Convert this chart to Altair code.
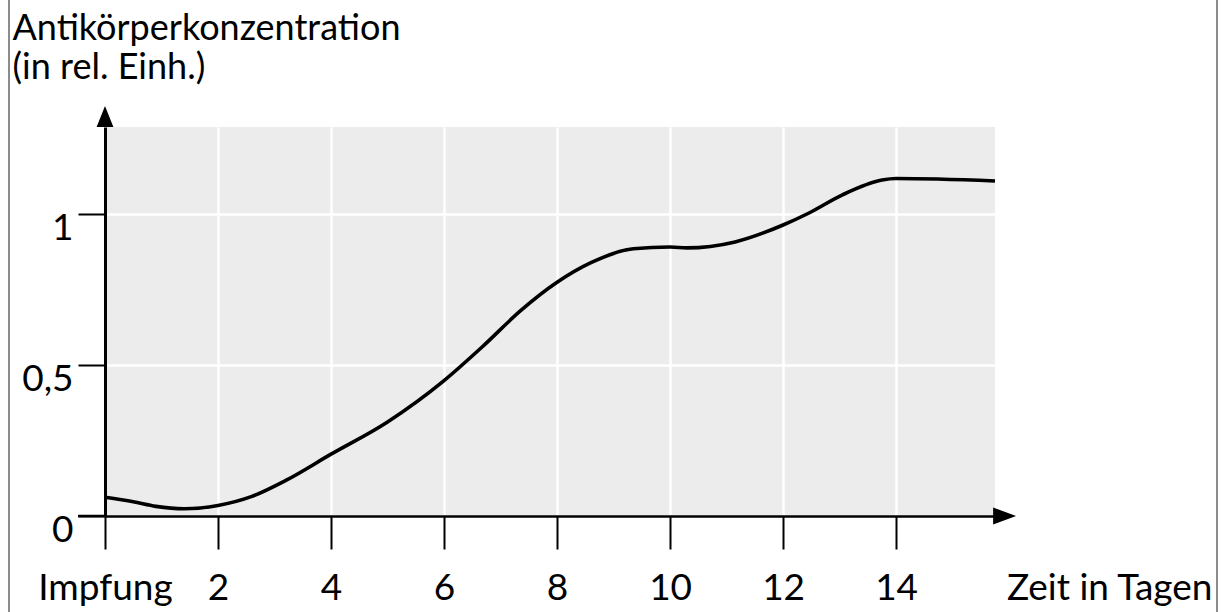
import altair as alt
import pandas as pd

# --- data ---
days = [0, 0.5, 0.9, 1.4, 2, 2.6, 3.2, 4, 5, 6, 6.7, 7.35, 8, 8.6, 9.35, 10, 10.3,
        11.15, 12, 12.45, 13.05, 13.75, 14, 15.75]
conc = [0.062, 0.047, 0.032, 0.024, 0.035, 0.065, 0.118, 0.205, 0.312, 0.449, 0.565,
        0.68, 0.775, 0.84, 0.886, 0.892, 0.889, 0.909, 0.965, 1.004, 1.065, 1.114,
        1.119, 1.111]
x_ticks = [0, 2, 4, 6, 8, 10, 12, 14]
y_ticks = [0, 0.5, 1]
x_title = "Zeit in Tagen"
y_title = ["Antikörperkonzentration", "(in rel. Einh.)"]
zero_label = "Impfung"

FONT = "Lato"
FS = 37

df = pd.DataFrame({"Tag": days, "Konz": conc})

xs = alt.Scale(domain=[0, 15.75], nice=False, zero=False)
ys = alt.Scale(domain=[0, 1.29], nice=False, zero=False)

x_axis = alt.Axis(
    values=x_ticks,
    labelExpr=f"datum.value == 0 ? '{zero_label}' : format(datum.value, 'd')",
    title=x_title,
    titleX=1107, titleY=83, titleAlign="right", titleBaseline="alphabetic",
    titleAngle=0,
    grid=True, gridColor="white", gridWidth=2.5,
    tickSize=33, tickWidth=2, tickColor="black",
    domainColor="black", domainWidth=2.5,
    labelPadding=50, labelBaseline="alphabetic", labelFlush=False, labelOverlap=False,
)
y_axis = alt.Axis(
    values=y_ticks,
    labelExpr="datum.value == 0.5 ? '0,5' : format(datum.value, 'd')",
    title=y_title,
    titleAngle=0, titleAlign="left", titleBaseline="alphabetic",
    titleX=-93, titleY=-88, titleLineHeight=39, titleFontSize=36,
    grid=True, gridColor="white", gridWidth=2.5,
    tickSize=27, tickWidth=2, tickColor="black",
    domainColor="black", domainWidth=3,
    labelPadding=5, labelBaseline="alphabetic", labelOffset=25, labelFlush=False,
)

line = alt.Chart(df).mark_line(
    color="black", strokeWidth=3.6, interpolate="monotone"
).encode(
    x=alt.X("Tag:Q", scale=xs, axis=x_axis),
    y=alt.Y("Konz:Q", scale=ys, axis=y_axis),
)

# extend x-axis line leftwards to the tick start
ext = alt.Chart(pd.DataFrame({"a": [0]})).mark_rule(color="black", strokeWidth=2.5).encode(
    x=alt.value(-27), x2=alt.value(0), y=alt.value(389)
)

arrows_df = pd.DataFrame({
    "Tag": [0, 15.92],
    "Konz": [1.325, 0],
    "shape": ["M0,-1L0.8,1L-0.8,1Z", "M1,0L-1,0.74L-1,-0.74Z"],
    "size": [441, 529],
})
arrows = alt.Chart(arrows_df).mark_point(filled=True, color="black", opacity=1, strokeWidth=0).encode(
    x=alt.X("Tag:Q", scale=xs),
    y=alt.Y("Konz:Q", scale=ys),
    shape=alt.Shape("shape:N", scale=None),
    size=alt.Size("size:Q", scale=None),
)

frame = alt.Chart(pd.DataFrame({"x": [-96, 1112]})).mark_rule(color="#666666", strokeWidth=1.5).encode(
    x=alt.X("x:Q", scale=None),
    y=alt.value(-127), y2=alt.value(485),
)

chart = alt.layer(line, ext, arrows, frame).properties(
    width=890, height=389,
    autosize=alt.AutoSizeParams(type="none"),
    padding={"left": 105, "top": 127, "right": 227, "bottom": 96},
    background="white",
).configure_view(
    fill="#ebeceb", strokeWidth=0
).configure_axis(
    labelFont=FONT, titleFont=FONT, labelFontSize=FS, titleFontSize=FS,
    labelColor="black", titleColor="black", titleFontWeight="normal",
)

chart.save("out.html", embed_options={"renderer": "svg", "actions": False})
